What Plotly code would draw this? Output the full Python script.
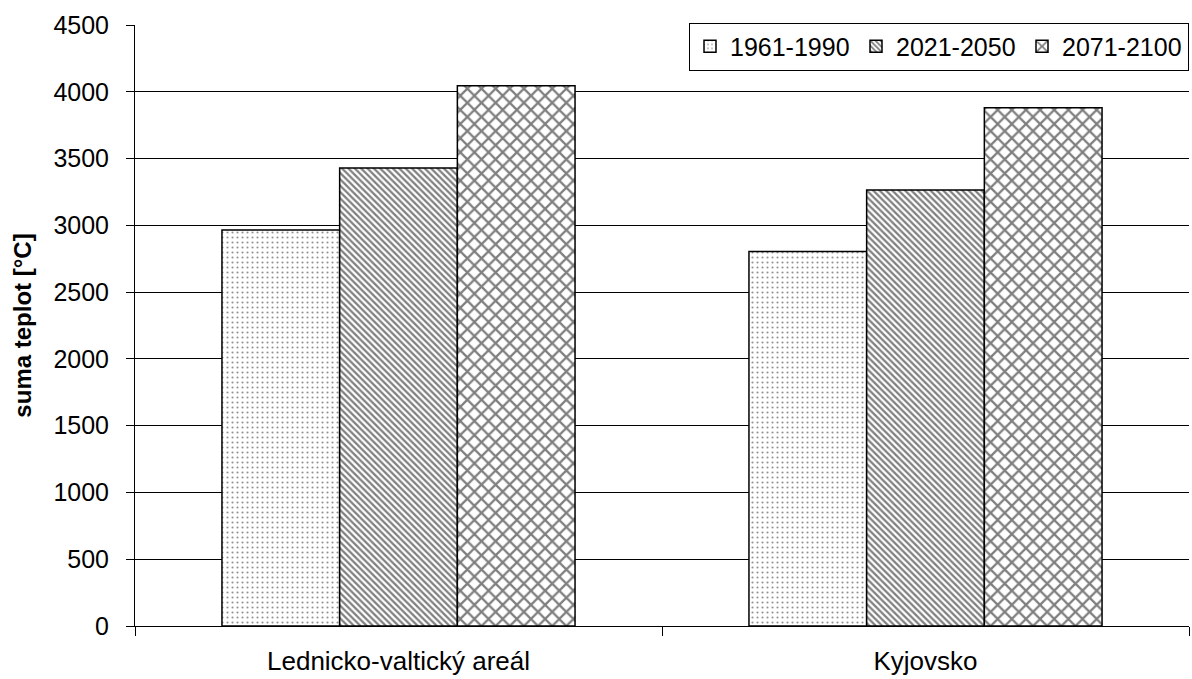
import plotly.graph_objects as go

# Temperature sums per region and period
regions = ["Lednicko-valtický areál", "Kyjovsko"]
periods = ["1961-1990", "2021-2050", "2071-2100"]
sum_1961_1990 = [2965, 2805]
sum_2021_2050 = [3430, 3265]
sum_2071_2100 = [4045, 3880]

series = [sum_1961_1990, sum_2021_2050, sum_2071_2100]
patterns = [
    dict(shape=".", size=5, solidity=0.14, fgcolor="#222222", bgcolor="white"),
    dict(shape="\\", size=4.5, solidity=0.5, fgcolor="black", bgcolor="white"),
    dict(shape="x", size=10, solidity=0.4, fgcolor="black", bgcolor="white"),
]

FONT = "Liberation Sans, Arial, sans-serif"

fig = go.Figure()
for name, vals, pat in zip(periods, series, patterns):
    fig.add_trace(go.Bar(
        x=regions, y=vals, name=name,
        marker=dict(color="white", pattern=pat,
                    line=dict(color="black", width=1.5)),
    ))

fig.update_layout(
    width=1192, height=679,
    margin=dict(l=135, r=3, t=25, b=53),
    paper_bgcolor="white", plot_bgcolor="white",
    barmode="group", bargap=0.33, bargroupgap=0,
    font=dict(family=FONT, size=25, color="black"),
    showlegend=True,
    legend=dict(
        orientation="h", x=1, xanchor="right", y=1.004, yanchor="top",
        bgcolor="white", bordercolor="black", borderwidth=1,
        font=dict(size=25), itemwidth=30, tracegroupgap=0,
        entrywidthmode="pixels", entrywidth=121,
    ),
    xaxis=dict(
        showline=True, linecolor="black", linewidth=1,
        ticks="outside", ticklen=9, tickcolor="black", tickson="boundaries",
        ticklabelstandoff=12, showgrid=False,
        tickfont=dict(size=26),
    ),
    yaxis=dict(
        range=[0, 4500], dtick=500, tick0=0,
        showline=True, linecolor="black", linewidth=1,
        ticks="outside", ticklen=8, tickcolor="black",
        showgrid=True, gridcolor="black", gridwidth=1,
        ticklabelstandoff=12, zeroline=False,
        title=dict(text="suma teplot [°C]", standoff=14,
                   font=dict(family=FONT, size=24, color="black", weight="bold")),
    ),
)

fig.write_html("out.html")
